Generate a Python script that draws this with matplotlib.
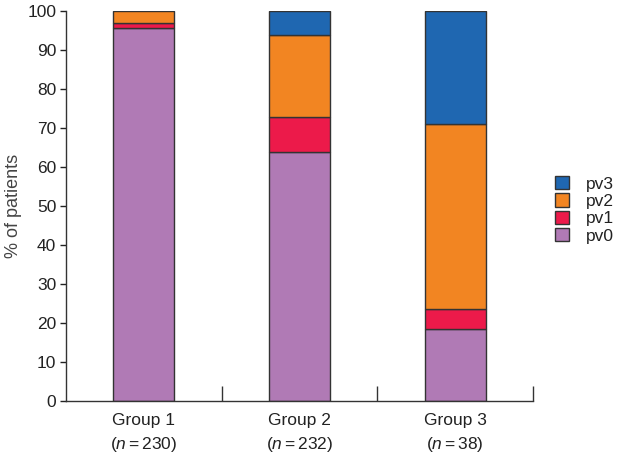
import matplotlib
matplotlib.use("Agg")
import matplotlib.pyplot as plt
from matplotlib.patches import Patch
import numpy as np

plt.rcParams['font.family'] = ['Liberation Sans', 'DejaVu Sans']
plt.rcParams['mathtext.fontset'] = 'custom'
plt.rcParams['mathtext.rm'] = 'Liberation Sans'
plt.rcParams['mathtext.it'] = 'Liberation Sans:italic'

groups = ["Group 1", "Group 2", "Group 3"]
n_values = [230, 232, 38]
series = ["pv0", "pv1", "pv2", "pv3"]
pv0 = [95.7, 63.8, 18.4]
pv1 = [1.3, 9.0, 5.3]
pv2 = [3.0, 21.1, 47.4]
pv3 = [0.0, 6.1, 28.9]
colors = ["#b07ab5", "#ec1a4a", "#f28522", "#1f67b1"]
yticks = [0, 10, 20, 30, 40, 50, 60, 70, 80, 90, 100]

FS = 12.5
fig = plt.figure(figsize=(6.18, 4.59), dpi=100)
ax = fig.add_axes([66/618, 1-401/459, (533-66)/618, (401-11)/459])

x = np.arange(len(groups))
bottom = np.zeros(len(groups))
handles = []
for vals, name, c in zip([pv0, pv1, pv2, pv3], series, colors):
    v = np.array(vals)
    mask = v > 0
    ax.bar(x[mask], v[mask], bottom=bottom[mask], width=0.39, color=c,
           edgecolor="#333333", linewidth=1.0)
    bottom += v
    handles.append(Patch(facecolor=c, edgecolor="#333333", linewidth=1.0, label=name))

ax.set_xlim(-0.5, 2.5)
ax.set_ylim(0, 100)
ax.set_yticks(yticks)
ax.tick_params(axis='y', direction='out', length=4, width=1, labelsize=FS,
               colors="#222222", pad=3)
labels = [f"{g}\n($\\mathit{{n}}$$=$" + f"{n})" for g, n in zip(groups, n_values)]
ax.set_xticks(x)
ax.set_xticklabels(labels, fontsize=FS, color="#222222", linespacing=1.5)
ax.tick_params(axis='x', which='major', length=0, pad=9)
ax.set_xticks([0.5, 1.5, 2.5], minor=True)
ax.tick_params(axis='x', which='minor', direction='in', length=11, width=1, color="#333333")

for s in ['top', 'right']:
    ax.spines[s].set_visible(False)
for s in ['left', 'bottom']:
    ax.spines[s].set_color("#333333")
    ax.spines[s].set_linewidth(1.0)

ax.set_ylabel("% of patients", fontsize=13, color="#444444", labelpad=4)

leg = ax.legend(handles=handles[::-1], loc='center left', bbox_to_anchor=(1.014, 0.49),
                frameon=False, fontsize=FS, handlelength=0.8, handleheight=0.8,
                handletextpad=1.0, labelspacing=0.1)
for t in leg.get_texts():
    t.set_color("#222222")

fig.savefig("out.png", dpi=100)
